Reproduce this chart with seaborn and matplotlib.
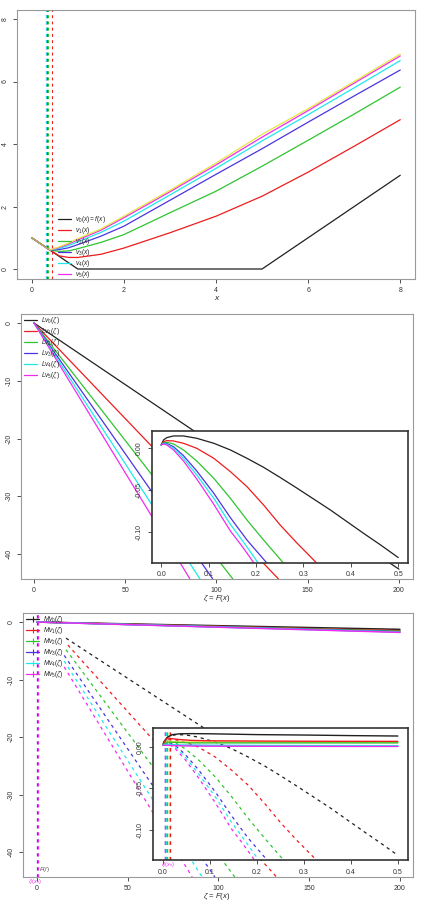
import matplotlib
matplotlib.use("Agg")
import matplotlib.pyplot as plt
from matplotlib.lines import Line2D
import seaborn as sns

# ---------------- data ----------------
# Panel 1: v_n(x)
x1 = [0, 0.39, 0.6, 0.8, 1.0, 1.5, 2, 3, 4, 5, 6, 7, 8]
v0 = [1, 0.61, 0.40, 0.20, 0.0, 0.0, 0.0, 0.0, 0.0, 0.0, 1.0, 2.0, 3.0]
v1 = [1, 0.61, 0.42, 0.37, 0.37, 0.47, 0.67, 1.16, 1.69, 2.33, 3.10, 3.93, 4.78]
v2 = [1, 0.61, 0.56, 0.58, 0.65, 0.85, 1.10, 1.80, 2.49, 3.29, 4.12, 4.96, 5.82]
v3 = [1, 0.61, 0.62, 0.68, 0.78, 1.05, 1.37, 2.20, 3.03, 3.85, 4.70, 5.54, 6.37]
v4 = [1, 0.61, 0.66, 0.75, 0.87, 1.17, 1.53, 2.37, 3.22, 4.10, 4.94, 5.80, 6.67]
v5 = [1, 0.61, 0.69, 0.80, 0.93, 1.24, 1.64, 2.47, 3.33, 4.22, 5.07, 5.95, 6.82]
v_lim = [1, 0.61, 0.71, 0.83, 0.97, 1.28, 1.69, 2.52, 3.39, 4.31, 5.13, 6.00, 6.88]
boundaries1 = [0.30, 0.31, 0.32, 0.34, 0.36, 0.44]   # yellow, magenta, cyan, blue, green, red
labels1 = [r"$v_0(x) = f(x)$", r"$v_1(x)$", r"$v_2(x)$", r"$v_3(x)$", r"$v_4(x)$", r"$v_5(x)$"]

# Panel 2: Lv_n(zeta) (start and exit points)
L_zeta = [[0, 200], [0, 134], [0, 109], [0, 98], [0, 91], [0, 85.5]]
L_vals = [[0, -42.6], [0, -44.3], [0, -44.3], [0, -44.3], [0, -44.3], [0, -44.3]]
labels2 = [r"$Lv_0(\zeta)$", r"$Lv_1(\zeta)$", r"$Lv_2(\zeta)$", r"$Lv_3(\zeta)$", r"$Lv_4(\zeta)$", r"$Lv_5(\zeta)$"]

# Inset (zoom near zeta = 0) of Lv_n
Li_zeta = [
    [0, 0.0049, 0.012, 0.026, 0.047, 0.075, 0.111, 0.146, 0.181, 0.216, 0.251, 0.287,
     0.322, 0.357, 0.392, 0.427, 0.463, 0.5],
    [0, 0.0049, 0.012, 0.026, 0.047, 0.075, 0.111, 0.146, 0.181, 0.216, 0.251, 0.287, 0.327],
    [0, 0.0049, 0.012, 0.026, 0.047, 0.075, 0.111, 0.146, 0.181, 0.216, 0.257],
    [0, 0.0049, 0.012, 0.026, 0.047, 0.075, 0.111, 0.146, 0.181, 0.222],
    [0, 0.0049, 0.012, 0.026, 0.047, 0.075, 0.111, 0.146, 0.174, 0.204],
    [0, 0.0049, 0.012, 0.026, 0.047, 0.075, 0.111, 0.146, 0.170, 0.195],
]
Li_vals = [
    [0.004, 0.010, 0.0128, 0.0148, 0.0148, 0.012, 0.006, -0.002, -0.012, -0.0228, -0.035,
     -0.048, -0.061, -0.074, -0.088, -0.102, -0.116, -0.131],
    [0.004, 0.008, 0.0092, 0.0088, 0.006, 0.0, -0.012, -0.028, -0.046, -0.068, -0.092, -0.114, -0.137],
    [0.004, 0.0068, 0.0072, 0.0052, -0.002, -0.0152, -0.036, -0.060, -0.086, -0.110, -0.137],
    [0.004, 0.006, 0.0056, 0.002, -0.0088, -0.0272, -0.054, -0.0832, -0.110, -0.137],
    [0.004, 0.0056, 0.0048, 0.0, -0.012, -0.032, -0.060, -0.0912, -0.1128, -0.137],
    [0.004, 0.0052, 0.004, -0.002, -0.0152, -0.0368, -0.0672, -0.0992, -0.117, -0.137],
]

# Panel 3: Mv_n(zeta) solid, and Lv_n dashed
M_zeta = [0, 200]
M_vals = [[0, -1.27], [0, -1.50], [0, -1.60], [0, -1.70], [0, -1.75], [0, -1.80]]
D_zeta = [[16, 200], [17, 132], [16, 109], [15, 98], [15, 91], [15, 85.5]]
D_vals = [[-2.8, -40.6], [-4.0, -44.3], [-4.8, -44.3], [-5.8, -44.3], [-6.8, -44.3], [-7.8, -44.3]]
labels3 = [r"$Mv_0(\zeta)$", r"$Mv_1(\zeta)$", r"$Mv_2(\zeta)$", r"$Mv_3(\zeta)$", r"$Mv_4(\zeta)$", r"$Mv_5(\zeta)$"]
Mi_zeta = [0, 0.005, 0.01, 0.02, 0.036, 0.06, 0.1, 0.2, 0.3, 0.4, 0.5]
Mi_vals = [
    [0.002, 0.009, 0.012, 0.015, 0.016, 0.0162, 0.016, 0.015, 0.0145, 0.0138, 0.0133],
    [0.002, 0.008, 0.011, 0.010, 0.009, 0.008, 0.0075, 0.0072, 0.007, 0.0069, 0.0068],
    [0.002, 0.005, 0.006, 0.0058, 0.0055, 0.005, 0.005, 0.005, 0.005, 0.005, 0.005],
    [0.002, 0.003, 0.003, 0.0025, 0.002, 0.002, 0.0018, 0.0016, 0.0015, 0.0013, 0.0012],
    [0.002, 0.003, 0.003, 0.0025, 0.0022, 0.0021, 0.002, 0.0019, 0.0018, 0.0017, 0.0016],
    [0.002, 0.0022, 0.002, 0.0017, 0.0015, 0.0012, 0.001, 0.0009, 0.0008, 0.0007, 0.0007],
]
Mi_lim = [0.002, 0.006, 0.007, 0.0065, 0.0062, 0.006, 0.006, 0.0059, 0.0058, 0.0058, 0.0058]
bound3_main = [0.0, 0.4]
bound3_inset = [0.004, 0.005, 0.007, 0.009, 0.012, 0.015]  # blue, magenta, cyan, green, yellow, red

# ---------------- style ----------------
sns.set_style("white")
plt.rcParams["font.family"] = ["Liberation Sans", "DejaVu Sans"]
plt.rcParams["mathtext.fontset"] = "custom"
plt.rcParams["mathtext.rm"] = "Liberation Sans"
plt.rcParams["mathtext.it"] = "Liberation Sans:italic"
plt.rcParams["axes.unicode_minus"] = False

cols = ["#202020", "#ee1c1c", "#2fc42f", "#4a35e0", "#1ee8ee", "#ee2cee"]
yellow = "#e6e640"
LW = 0.9
DASH = (2.6, 3.0)

fig = plt.figure(figsize=(4.23, 9.0), dpi=100)
W, H = 423.0, 900.0


def add_ax(l, r, t, b, z=1):
    return fig.add_axes([l / W, 1 - b / H, (r - l) / W, (b - t) / H], zorder=z)


def style(ax, xt, yt, xlim, ylim, spc, slw, yfmt=None, xfmt=None):
    ax.set_xlim(*xlim)
    ax.set_ylim(*ylim)
    ax.set_xticks(xt)
    ax.set_yticks(yt)
    if xfmt:
        ax.set_xticklabels([xfmt.format(v) for v in xt])
    if yfmt:
        ax.set_yticklabels([yfmt.format(v) for v in yt])
    ax.tick_params(axis="both", direction="out", length=3, width=0.6,
                   labelsize=5, colors="#333333", bottom=True, left=True)
    ax.tick_params(axis="x", pad=3)
    ax.tick_params(axis="y", pad=3.2, labelrotation=90)
    for lab in ax.get_yticklabels():
        lab.set_va("center")
    for sp in ax.spines.values():
        sp.set_color(spc)
        sp.set_linewidth(slw)
    ax.set_xlabel("")
    ax.set_ylabel("")
    ax.grid(False)


def line(ax, x, y, c, dashed=False, lw=LW):
    sns.lineplot(x=x, y=y, ax=ax, color=c, linewidth=lw, legend=False, sort=False)
    if dashed:
        ax.lines[-1].set_dashes(DASH)


LEG = dict(loc="upper left", frameon=False, fontsize=4.8, handletextpad=0.5,
           labelspacing=0.0, borderpad=0, borderaxespad=0)

# ---------------- Panel 1 ----------------
ax1 = add_ax(17, 415, 10, 279)
for xb, c in zip(boundaries1, [yellow, cols[5], cols[4], cols[3], cols[2], cols[1]]):
    ax1.axvline(xb, color=c, lw=0.8, dashes=DASH)
for vals, c in zip([v0, v1, v2, v3, v4, v5], cols):
    line(ax1, x1, vals, c)
line(ax1, x1[:2], v_lim[:2], "#b8b83a")
line(ax1, x1[1:], v_lim[1:], yellow)
style(ax1, [0, 2, 4, 6, 8], [0, 2, 4, 6, 8], (-0.32, 8.32), (-0.32, 8.29), "#9a9a9a", 0.8)
h1 = [Line2D([], [], color=c, lw=LW) for c in cols]
ax1.legend(h1, labels1, bbox_to_anchor=((58 - 17) / 398, 1 - (214 - 10) / 269),
           handlelength=2.0, **LEG)
fig.text(217 / W, 1 - 298.5 / H, r"$x$", ha="center", va="center", fontsize=6)

# ---------------- Panel 2 ----------------
ax2 = add_ax(21, 413, 314, 579)
for zx, zv, c in zip(L_zeta, L_vals, cols):
    line(ax2, zx, zv, c)
style(ax2, [0, 50, 100, 150, 200], [0, -10, -20, -30, -40], (-7.1, 207.7), (-44.3, 1.56), "#9a9a9a", 0.8)
h2 = [Line2D([], [], color=c, lw=LW) for c in cols]
ax2.legend(h2, labels2, bbox_to_anchor=(0.008, 0.995), handlelength=2.0, **LEG)
fig.text(217 / W, 1 - 598.5 / H, r"$\zeta$ = $F(x)$", ha="center", va="center", fontsize=5.5)

ax2i = add_ax(151.7, 407.7, 430.7, 562.7, z=3)
ax2i.set_facecolor("white")
for zx, zv, c in zip(Li_zeta, Li_vals, cols):
    line(ax2i, zx, zv, c)
style(ax2i, [0, 0.1, 0.2, 0.3, 0.4, 0.5], [0, -0.05, -0.10], (-0.02, 0.52), (-0.1372, 0.0211),
      "#333333", 1.2, yfmt="{:.2f}", xfmt="{:.1f}")

# ---------------- Panel 3 ----------------
ax3 = add_ax(23, 413, 613, 877)
for xb, c in zip(bound3_main, [cols[3], cols[5]]):
    ax3.axvline(xb, color=c, lw=LW, dashes=DASH)
for zx, zv, c in zip(D_zeta, D_vals, cols):
    line(ax3, zx, zv, c, dashed=True)
for zv, c in zip(M_vals, cols):
    line(ax3, M_zeta, zv, c, lw=1.1)
style(ax3, [0, 50, 100, 150, 200], [0, -10, -20, -30, -40], (-7.7, 207.2), (-44.3, 1.57), "#9a9a9a", 0.8)
h3 = [Line2D([], [], color=c, lw=LW, marker="|", markersize=4, markeredgewidth=0.8) for c in cols]
ax3.legend(h3, labels3, bbox_to_anchor=(0.008, 0.995), handlelength=2.0, **LEG)
ax3.text(1.2, -43.0, r"$F(l)$", fontsize=4.5, color="#555555", ha="left", va="center")
ax3.text(-1.0, -44.45, r"$\zeta_l(x_n)$", fontsize=4.0, color=cols[5], ha="center", va="top", clip_on=False)
fig.text(217 / W, 1 - 896 / H, r"$\zeta$ = $F(x)$", ha="center", va="center", fontsize=5.5)

ax3i = add_ax(152.7, 407.7, 728, 860.3, z=3)
ax3i.set_facecolor("white")
for xb, c in zip(bound3_inset, [cols[3], cols[5], cols[4], cols[2], yellow, cols[1]]):
    ax3i.axvline(xb, color=c, lw=1.0, dashes=DASH)
for zx, zv, c in zip(Li_zeta, Li_vals, cols):
    line(ax3i, zx, zv, c, dashed=True)
line(ax3i, Mi_zeta, Mi_lim, yellow, lw=1.0)
for zv, c in zip(Mi_vals, cols):
    line(ax3i, Mi_zeta, zv, c, lw=1.0)
style(ax3i, [0, 0.1, 0.2, 0.3, 0.4, 0.5], [0, -0.05, -0.10], (-0.022, 0.521), (-0.137, 0.023),
      "#333333", 1.2, yfmt="{:.2f}", xfmt="{:.1f}")
ax3i.text(0.01, -0.1375, r"$\zeta_l(x_n)$", fontsize=4.0, color=cols[5], ha="center", va="top", clip_on=False)

fig.savefig("out.png", dpi=100, facecolor="white")
